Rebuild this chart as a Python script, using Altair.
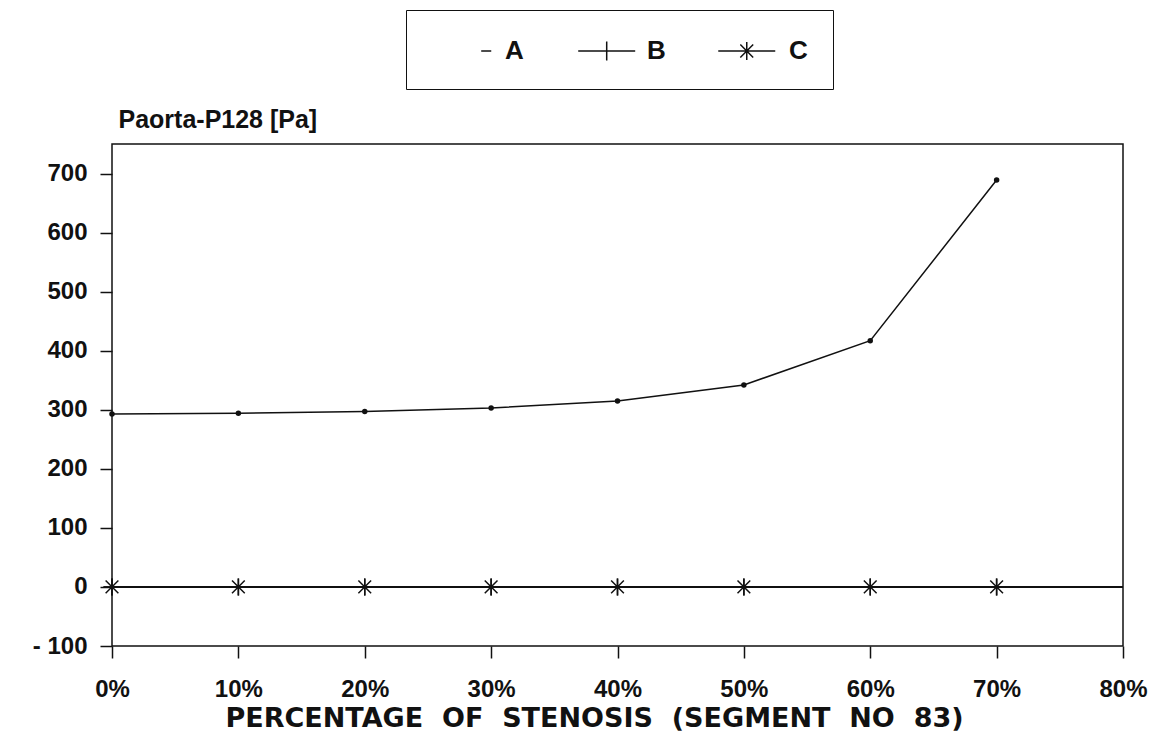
import altair as alt
import pandas as pd

# ---- data ----
stenosis = [0, 10, 20, 30, 40, 50, 60, 70]
series_a = [293, 294, 297, 303, 315, 342, 417, 689]
series_b = [0, 0, 0, 0, 0, 0, 0, 0]
series_c = [0, 0, 0, 0, 0, 0, 0, 0]
series_names = ["A", "B", "C"]
x_ticks = [0, 10, 20, 30, 40, 50, 60, 70, 80]
y_ticks = [-100, 0, 100, 200, 300, 400, 500, 600, 700]

rows = []
for name, vals in zip(series_names, [series_a, series_b, series_c]):
    for s, v in zip(stenosis, vals):
        rows.append({"stenosis": s, "value": v, "series": name})
df = pd.DataFrame(rows)

PLUS = "M-1,0L1,0M0,-1L0,1"
STAR = "M-1,0L1,0M0,-1L0,1M-0.75,-0.75L0.75,0.75M-0.75,0.75L0.75,-0.75"
legend_shapes = [
    "M2.28,0L2.95,0",
    "M-0.72,0L3.08,0M1.18,-0.63L1.18,0.63",
    "M-0.85,0L2.95,0M1.05,-0.6L1.05,0.6M0.62,-0.43L1.48,0.43M0.62,0.43L1.48,-0.43",
]

INK = "#111111"
SP = "\u00a0\u00a0"
x_title = SP.join(["PERCENTAGE", "OF", "STENOSIS", "(SEGMENT", "NO", "83)"])

x_axis = alt.Axis(
    values=x_ticks, labelExpr="datum.value + '%'", title=x_title,
    grid=False, domain=False, tickSize=12, tickColor=INK, tickWidth=1.5,
    labelFont="Liberation Sans", labelFontWeight="bold", labelFontSize=24,
    labelColor=INK, labelPadding=19, labelFlush=False, labelOverlap=False,
    titleFont="DejaVu Sans", titleFontSize=27, titleFontWeight="bold",
    titleColor=INK, titleX=482, titleY=80, titleBaseline="alphabetic",
    titleAlign="center",
)
y_axis = alt.Axis(
    values=y_ticks,
    labelExpr="datum.value < 0 ? '- ' + (-datum.value) : '' + datum.value",
    title="Paorta-P128 [Pa]", titleAngle=0, titleX=6, titleY=-17,
    titleAlign="left", titleBaseline="alphabetic",
    titleFont="Liberation Sans", titleFontSize=25, titleFontWeight="bold",
    titleColor=INK,
    grid=False, domain=False, tickSize=12, tickColor=INK, tickWidth=1.5,
    labelFont="Liberation Sans", labelFontWeight="bold", labelFontSize=24,
    labelColor=INK, labelPadding=13, labelOverlap=False,
)

x_scale = alt.Scale(domain=[0, 80], nice=False, zero=False)
y_scale = alt.Scale(domain=[-100, 750], nice=False, zero=False)

X = alt.X("stenosis:Q", scale=x_scale, axis=x_axis)
Y = alt.Y("value:Q", scale=y_scale, axis=y_axis)

base = alt.Chart(df)

zero_rule = alt.Chart(df).mark_rule(color=INK, strokeWidth=1.5).encode(
    y=alt.Y(datum=0, scale=y_scale, axis=y_axis)
)

lines = base.mark_line(color=INK, strokeWidth=1.5).encode(
    x=X, y=Y, detail="series:N"
)

pts_a = base.transform_filter("datum.series == 'A'").mark_point(
    shape="circle", filled=True, size=30, color=INK, opacity=1
).encode(x=X, y=Y)

pts_b = base.transform_filter("datum.series == 'B'").mark_point(
    shape=PLUS, filled=False, size=289, color=INK, strokeWidth=1.5, opacity=1
).encode(x=X, y=Y)

pts_c = base.transform_filter("datum.series == 'C'").mark_point(
    shape=STAR, filled=False, size=289, color=INK, strokeWidth=1.5, opacity=1
).encode(x=X, y=Y)

legend_layer = base.transform_filter("false").mark_point(
    filled=False, color=INK, size=900, strokeWidth=1.5, opacity=1
).encode(
    x=X, y=Y,
    shape=alt.Shape(
        "series:N",
        scale=alt.Scale(domain=series_names, range=legend_shapes),
        legend=alt.Legend(
            orient="none", legendX=294, legendY=-134, direction="horizontal",
            title=None, strokeColor=INK, padding=25, labelOffset=42,
            columnPadding=49, labelFont="Liberation Sans", labelFontSize=26,
            labelFontWeight="bold", labelColor=INK, symbolSize=900,
            symbolStrokeWidth=1.5, symbolStrokeColor=INK,
            symbolFillColor="transparent",
        ),
    ),
)

chart = alt.layer(zero_rule, lines, pts_a, pts_b, pts_c, legend_layer).properties(
    width=1011, height=502,
    padding={"left": 104, "top": 136, "right": 26, "bottom": 96},
    autosize=alt.AutoSizeParams(type="none"),
    background="white",
).configure_view(stroke=INK, strokeWidth=1.5)

chart.save("out.html", embed_options={"renderer": "svg", "actions": False})
